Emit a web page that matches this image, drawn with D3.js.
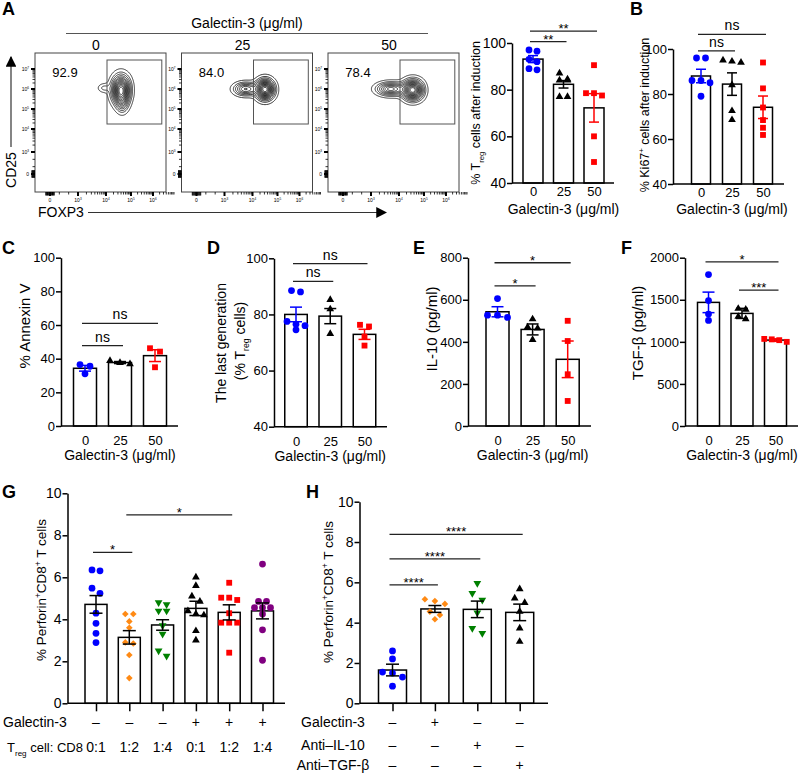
<!DOCTYPE html>
<html>
<head>
<meta charset="utf-8">
<script src="https://cdn.jsdelivr.net/npm/d3@7"></script>
<style>
  body { margin: 0; background: #fff; }
  svg text { font-family: "Liberation Sans", Arial, Helvetica, sans-serif; fill: #000; }
</style>
</head>
<body>
<svg id="fig" width="800" height="775"></svg>
<script>
// ---------------- data ----------------
const doseLabels = ["0", "25", "50"];

// A, flow plots (values in display decades: 0, 10^3 ... 10^7)
const flowGatePct = ["92.9", "84.0", "78.4"];
const flowXTicks = [0, 3, 4, 5, 6];
const flowYTicks = [0, 3, 4, 5, 6, 7];
const flowGate = [4.04, 6.4, 4.25, 7.45];          // x0, x1, y0, y1
// populations per plot: [centerX, centerY, sdX, sdY, weight]
const flowPops = [
  [[4.6, 5.95, 0.22, 0.42, 1], [4.65, 5.3, 0.15, 0.3, 0.25], [3.93, 6.05, 0.14, 0.14, 0.12]],
  [[4.5, 5.98, 0.22, 0.3, 1], [3.75, 6.0, 0.25, 0.2, 0.45]],
  [[4.55, 5.95, 0.25, 0.3, 1], [3.7, 6.0, 0.3, 0.2, 0.55]]
];
const flowLevels = [0.04, 0.1, 0.16, 0.23, 0.3, 0.37, 0.44, 0.51, 0.58, 0.65, 0.72, 0.79, 0.86, 0.93];

// A, bar: % Treg after induction
const tregPoints = [[97, 96.5, 93, 92, 88.5, 89], [87, 84.5, 84, 84, 77, 77], [90.5, 78.5, 78.5, 77.5, 60, 49]];
const tregMean = [93.1, 82.3, 72.2];
const tregSem = [1.5, 1.6, 6.1];
const tregSig = [{a: 0, b: 1, level: 100.6, label: "**"}, {a: 0, b: 2, level: 105.1, label: "**"}];

// B: % Ki67+
const kiPoints = [[96, 96, 86, 85, 86, 79], [94.5, 95, 94, 84, 72.5, 68.5], [94, 82.5, 74, 68.4, 65, 61.8]];
const kiMean = [88, 84.4, 74.1];
const kiSem = [3, 5, 5];
const kiSig = [{a: 0, b: 1, level: 99.2, label: "ns"}, {a: 0, b: 2, level: 106.5, label: "ns"}];

// C: % Annexin V
const annexPoints = [[36.5, 35.5, 31], [36.8, 38.8, 37.6], [46.2, 44.2, 34.9]];
const annexMean = [34.3, 37.7, 41.8];
const annexSem = [1.7, 0.6, 3.5];
const annexSig = [{a: 0, b: 1, level: 47.7, label: "ns"}, {a: 0, b: 2, level: 61, label: "ns"}];

// D: last generation (% Treg)
const lastGenPoints = [[88, 88.5, 77.5, 76.5, 76, 74.5], [85.2, 81.9, 73.1], [75.7, 76.3, 72.1, 68.9]];
const lastGenMean = [80, 79.4, 72.9];
const lastGenSem = [2.6, 2.7, 1.8];
const lastGenSig = [{a: 0, b: 1, level: 91.8, label: "ns"}, {a: 0, b: 2, level: 98.1, label: "ns"}];

// E: IL-10 (pg/ml)
const il10Points = [[606, 516, 527, 527], [508, 470, 465, 410], [500, 404, 246, 119]];
const il10Mean = [543, 459, 317];
const il10Sem = [24, 26, 87];
const il10Sig = [{a: 0, b: 1, level: 666, label: "*"}, {a: 0, b: 2, level: 776, label: "*"}];

// F: TGF-beta (pg/ml)
const tgfPoints = [[1800, 1490, 1330, 1255], [1385, 1395, 1300, 1272], [1035, 1030, 1020, 1000]];
const tgfMean = [1469, 1338, 1021];
const tgfSem = [122, 60, 15];
const tgfSig = [{a: 1, b: 2, level: 1615, label: "***"}, {a: 0, b: 2, level: 1951, label: "*"}];

// G: % Perforin+CD8+ T cells, Treg:CD8 co-culture
const gGroups = ["g1", "g2", "g3", "g4", "g5", "g6"];
const gGalectin = ["\u2013", "\u2013", "\u2013", "+", "+", "+"];
const gRatio = ["0:1", "1:2", "1:4", "0:1", "1:2", "1:4"];
const gPoints = [
  [6.31, 6.35, 5.48, 5.24, 4.29, 3.81, 3.33, 2.89],
  [4.25, 4.25, 3.9, 3.6, 2.9, 2.85, 2.3, 1.2],
  [4.7, 4.8, 4.4, 4.4, 3.7, 3.3, 2.5, 2.25],
  [6.0, 5.6, 5.1, 4.85, 4.4, 4.25, 4.2, 3.45, 3.0],
  [5.74, 5.03, 5.03, 4.92, 4.29, 3.84, 3.84, 3.84, 2.41],
  [6.63, 4.85, 4.85, 4.55, 4.55, 4.55, 4.25, 3.5, 2.05]
];
const gMean = [4.71, 3.14, 3.73, 4.52, 4.33, 4.40];
const gSem = [0.42, 0.32, 0.25, 0.34, 0.36, 0.38];
const gSig = [{a: 0, b: 1, level: 7.19, label: "*"}, {a: 1, b: 4, level: 8.97, label: "*"}];

// H: % Perforin+CD8+ T cells, blocking antibodies
const hGroups = ["h1", "h2", "h3", "h4"];
const hGalectin = ["\u2013", "+", "\u2013", "\u2013"];
const hAntiIL10 = ["\u2013", "\u2013", "+", "\u2013"];
const hAntiTGF = ["\u2013", "\u2013", "\u2013", "+"];
const hPoints = [
  [2.6, 2.2, 1.55, 1.5, 1.3, 0.85],
  [5.07, 5.16, 4.93, 4.55, 4.17, 4.38],
  [5.95, 5.46, 5.12, 4.49, 3.47, 3.72],
  [5.67, 5.21, 4.99, 4.55, 3.72, 3.06]
];
const hMean = [1.65, 4.68, 4.66, 4.51];
const hSem = [0.29, 0.17, 0.41, 0.41];
const hSig = [{a: 0, b: 1, level: 5.87, label: "****"}, {a: 0, b: 2, level: 7.16, label: "****"}, {a: 0, b: 3, level: 8.38, label: "****"}];

// ---------------- styles ----------------
const BLUE = "#0000ff", RED = "#ff0000", BLACK = "#000000", ORANGE = "#ff8a14", GREEN = "#008000", PURPLE = "#800080";
const symCircle = {type: d3.symbolCircle, size: 36};
const symTriUp = {type: d3.symbolTriangle, size: 26};
const symTriDown = {type: d3.symbolTriangle, size: 26, rotate: 180};
const symSquare = {type: d3.symbolSquare, size: 34};
const symDiamond = {type: d3.symbolSquare, size: 22, rotate: 45};
const doseStyles = [
  {...symCircle, color: BLUE}, {...symTriUp, color: BLACK}, {...symSquare, color: RED}
];
const gStyles = [
  {...symCircle, color: BLUE}, {...symDiamond, color: ORANGE}, {...symTriDown, color: GREEN},
  {...symTriUp, color: BLACK}, {...symSquare, color: RED}, {...symCircle, color: PURPLE}
];
const hStyles = [
  {...symCircle, color: BLUE}, {...symDiamond, color: ORANGE}, {...symTriDown, color: GREEN}, {...symTriUp, color: BLACK}
];

const svg = d3.select("#fig");

// text with sub/superscripts
function richText(sel, parts, size) {
  let off = 0;
  parts.forEach(([t, kind]) => {
    const target = kind === "sub" ? size * 0.3 : kind === "sup" ? -size * 0.38 : 0;
    sel.append("tspan").attr("dy", target - off).attr("font-size", kind ? size * 0.62 : size).text(t);
    off = target;
  });
}

function rotLabel(x, y, parts, size) {
  const t = svg.append("text")
    .attr("transform", `translate(${x},${y}) rotate(-90)`)
    .attr("text-anchor", "middle")
    .attr("font-size", size);
  richText(t, parts, size);
}

function plainText(x, y, str, size, anchor, weight) {
  return svg.append("text").attr("x", x).attr("y", y)
    .attr("font-size", size).attr("text-anchor", anchor || "middle")
    .attr("font-weight", weight || "normal").text(str);
}

// Prism-like scatter: points at almost the same height sit side by side
function swarm(vals, y, step) {
  const sorted = vals.map(v => ({v, py: y(v)})).sort((a, b) => a.py - b.py);
  const rows = [];
  sorted.forEach(p => {
    const last = rows[rows.length - 1];
    if (last && Math.abs(p.py - last[0].py) < step * 0.75) last.push(p);
    else rows.push([p]);
  });
  const out = [];
  rows.forEach(r => r.forEach((p, k) => out.push({v: p.v, dx: (k - (r.length - 1) / 2) * step})));
  return out;
}

function barPanel(cfg) {
  const g = svg.append("g");
  const y = d3.scaleLinear().domain([cfg.ticks[0], cfg.ticks[cfg.ticks.length - 1]]).range([cfg.yBottom, cfg.yTop]);
  const x = d3.scalePoint().domain(cfg.cats).range([cfg.xFirst, cfg.xLast]);
  const base = y.domain()[0];

  // bars
  g.selectAll(".bar").data(cfg.means).join("rect")
    .attr("class", "bar")
    .attr("x", (d, i) => x(cfg.cats[i]) - cfg.barW / 2)
    .attr("y", d => y(d))
    .attr("width", cfg.barW)
    .attr("height", d => y(base) - y(d))
    .attr("fill", "#fff").attr("stroke", "#000").attr("stroke-width", 1.5);

  // points
  cfg.points.forEach((vals, i) => {
    const st = cfg.styles[i];
    g.selectAll(null).data(swarm(vals, y, cfg.step)).join("path")
      .attr("transform", d => `translate(${x(cfg.cats[i]) + d.dx},${y(d.v)})` + (st.rotate ? ` rotate(${st.rotate})` : ""))
      .attr("d", d3.symbol(st.type, st.size)())
      .attr("fill", st.color);
  });

  // error bars (mean +/- SEM)
  cfg.means.forEach((m, i) => {
    const cx = x(cfg.cats[i]);
    const col = cfg.errColors ? cfg.errColors[i] : "#000";
    const lo = y(m - cfg.sem[i]), hi = y(m + cfg.sem[i]);
    const eg = g.append("g").attr("stroke", col).attr("stroke-width", 1.5);
    eg.append("line").attr("x1", cx).attr("x2", cx).attr("y1", lo).attr("y2", hi);
    eg.append("line").attr("x1", cx - cfg.cap).attr("x2", cx + cfg.cap).attr("y1", lo).attr("y2", lo);
    eg.append("line").attr("x1", cx - cfg.cap).attr("x2", cx + cfg.cap).attr("y1", hi).attr("y2", hi);
  });

  // y axis
  const yg = g.append("g").attr("transform", `translate(${cfg.axisX},0)`)
    .call(d3.axisLeft(y).tickValues(cfg.ticks).tickSize(5).tickSizeOuter(0).tickPadding(1).tickFormat(d3.format("d")));
  yg.attr("font-family", null).attr("font-size", cfg.tickFont);
  yg.selectAll("path, line").attr("stroke-width", 1.5);
  yg.selectAll("text").attr("fill", "#000");

  // x axis
  g.append("line").attr("x1", cfg.axisX).attr("x2", cfg.axisEnd)
    .attr("y1", y(base)).attr("y2", y(base)).attr("stroke", "#000").attr("stroke-width", 1.5);
  const xg = g.append("g").attr("transform", `translate(0,${y(base)})`)
    .call(d3.axisBottom(x).tickSize(cfg.xTickLen).tickPadding(cfg.xTickPad)
      .tickFormat(cfg.xLabels ? (d, i) => cfg.xLabels[i] : ""));
  xg.select(".domain").remove();
  xg.attr("font-family", null).attr("font-size", cfg.xTickFont || cfg.tickFont);
  xg.selectAll("line").attr("stroke-width", 1.5);
  xg.selectAll("text").attr("fill", "#000");

  if (cfg.xTitle) {
    plainText((cfg.xFirst + cfg.xLast) / 2, y(base) + cfg.titleDy, cfg.xTitle, 14);
  }

  // significance brackets
  cfg.sig.forEach(s => {
    const x1 = x(cfg.cats[s.a]) - 3, x2 = x(cfg.cats[s.b]) + 3, yy = y(s.level);
    g.append("line").attr("x1", x1).attr("x2", x2).attr("y1", yy).attr("y2", yy)
      .attr("stroke", "#222").attr("stroke-width", 1.3);
    const ns = s.label === "ns";
    plainText((x1 + x2) / 2, yy + (ns ? -4 : 2), s.label, ns ? 14 : 13);
  });
  return {x, y};
}

// ---------------- panel A: flow plots ----------------
const flowLayout = {
  lefts: [35, 181.5, 328], top: 53, w: 131, h: 139,
  xRange: [15, 43, 71, 96, 118], yRange: [121, 99, 76, 56, 36, 16],
  pctX: 30, pctY: 24, colLabelX: 61
};

function flowPlot(k) {
  const L = flowLayout;
  const g = svg.append("g").attr("transform", `translate(${L.lefts[k]},${L.top})`);
  const fx = d3.scaleLinear().domain(flowXTicks).range(L.xRange);
  const fy = d3.scaleLinear().domain(flowYTicks).range(L.yRange);

  // density surface for the contour lines
  const vals = new Float64Array(L.w * L.h);
  for (let j = 0; j < L.h; j++) {
    for (let i = 0; i < L.w; i++) {
      const tx = fx.invert(i + 0.5), ty = fy.invert(j + 0.5);
      let s = 0;
      flowPops[k].forEach(([cx, cy, sx, sy, wt]) => {
        s += wt * Math.exp(-0.5 * (((tx - cx) / sx) ** 2 + ((ty - cy) / sy) ** 2));
      });
      vals[j * L.w + i] = s;
    }
  }
  const mx = d3.max(vals);
  const contours = d3.contours().size([L.w, L.h]).thresholds(flowLevels.map(f => f * mx))(vals);
  g.selectAll(".ct").data(contours).join("path")
    .attr("class", "ct")
    .attr("d", d3.geoPath())
    .attr("fill", "none").attr("stroke", "#000").attr("stroke-width", 0.75);

  // frame and gate
  g.append("rect").attr("width", L.w).attr("height", L.h)
    .attr("fill", "none").attr("stroke", "#444").attr("stroke-width", 1);
  g.append("rect")
    .attr("x", fx(flowGate[0])).attr("y", fy(flowGate[3]))
    .attr("width", fx(flowGate[1]) - fx(flowGate[0]))
    .attr("height", fy(flowGate[2]) - fy(flowGate[3]))
    .attr("fill", "none").attr("stroke", "#555").attr("stroke-width", 1);

  // rug-like tick marks
  const minor = [];
  for (let d = 3; d <= 6; d++) for (let m = 2; m <= 9; m++) minor.push(d + Math.log10(m));
  const nearZero = d3.range(-0.45, 0.46, 0.09);
  const tickG = g.append("g").attr("stroke", "#000");
  [...minor, 1, 2].forEach(t => {
    tickG.append("line").attr("x1", fx(t)).attr("x2", fx(t)).attr("y1", L.h).attr("y2", L.h + 2.5).attr("stroke-width", 0.8);
    tickG.append("line").attr("y1", fy(t)).attr("y2", fy(t)).attr("x1", 0).attr("x2", -2.5).attr("stroke-width", 0.8);
  });
  nearZero.forEach(t => {
    tickG.append("line").attr("x1", fx(t)).attr("x2", fx(t)).attr("y1", L.h).attr("y2", L.h + 3.5).attr("stroke-width", 1);
    tickG.append("line").attr("y1", fy(t)).attr("y2", fy(t)).attr("x1", 0).attr("x2", -3.5).attr("stroke-width", 1);
  });
  flowXTicks.forEach(t => tickG.append("line").attr("x1", fx(t)).attr("x2", fx(t)).attr("y1", L.h).attr("y2", L.h + 4).attr("stroke-width", 2));
  flowYTicks.forEach(t => tickG.append("line").attr("y1", fy(t)).attr("y2", fy(t)).attr("x1", 0).attr("x2", -4).attr("stroke-width", 2));

  const tickLabel = (sel, t) => {
    if (t === 0) sel.text("0");
    else richText(sel, [["10", null], [String(t), "sup"]], 5);
  };
  flowXTicks.forEach(t => {
    const s = g.append("text").attr("x", fx(t)).attr("y", L.h + 10).attr("font-size", 5)
      .attr("text-anchor", "middle").attr("fill", "#333");
    tickLabel(s, t);
  });
  flowYTicks.forEach(t => {
    const s = g.append("text").attr("x", -6).attr("y", fy(t) + 2).attr("font-size", 5)
      .attr("text-anchor", "end").attr("fill", "#333");
    tickLabel(s, t);
  });

  // gate percentage and dose header
  g.append("text").attr("x", L.pctX).attr("y", L.pctY).attr("text-anchor", "middle")
    .attr("font-size", 13).text(flowGatePct[k]);
  g.append("text").attr("x", L.colLabelX).attr("y", -3).attr("text-anchor", "middle")
    .attr("font-size", 14).text(doseLabels[k]);
}

[0, 1, 2].forEach(flowPlot);

plainText(247, 28, "Galectin-3 (\u03bcg/ml)", 14);
svg.append("line").attr("x1", 66).attr("x2", 428).attr("y1", 33.5).attr("y2", 33.5)
  .attr("stroke", "#555").attr("stroke-width", 1.2);

// FOXP3 / CD25 arrows
svg.append("defs").append("marker")
  .attr("id", "arrow").attr("viewBox", "0 0 10 10").attr("refX", 9).attr("refY", 5)
  .attr("markerWidth", 9).attr("markerHeight", 9).attr("orient", "auto")
  .append("path").attr("d", "M0,0 L10,5 L0,10 Z").attr("fill", "#000");
plainText(38, 217, "FOXP3", 14, "start");
svg.append("line").attr("x1", 88).attr("x2", 386).attr("y1", 212.5).attr("y2", 212.5)
  .attr("stroke", "#333").attr("stroke-width", 1.2).attr("marker-end", "url(#arrow)");
rotLabel(16, 170, [["CD25", null]], 14);
svg.append("line").attr("x1", 11).attr("x2", 11).attr("y1", 147).attr("y2", 57)
  .attr("stroke", "#333").attr("stroke-width", 1.2).attr("marker-end", "url(#arrow)");

// ---------------- bar panels ----------------
const doseErrColors = [BLUE, BLACK, RED];
const galTitle = "Galectin-3 (\u03bcg/ml)";

barPanel({
  cats: doseLabels, xLabels: doseLabels, points: tregPoints, means: tregMean, sem: tregSem, sig: tregSig,
  styles: doseStyles, errColors: doseErrColors, ticks: [40, 60, 80, 100],
  axisX: 512, axisEnd: 614, yBottom: 183, yTop: 43, xFirst: 533, xLast: 594, barW: 20,
  step: 8, cap: 5, tickFont: 14, xTickFont: 13, xTickLen: 0, xTickPad: 4, xTitle: galTitle, titleDy: 31
});
rotLabel(480, 113, [["% T", null], ["reg", "sub"], [" cells after induction", null]], 12.5);

barPanel({
  cats: doseLabels, xLabels: doseLabels, points: kiPoints, means: kiMean, sem: kiSem, sig: kiSig,
  styles: doseStyles, errColors: doseErrColors, ticks: [40, 60, 80, 100],
  axisX: 673, axisEnd: 784, yBottom: 184, yTop: 49, xFirst: 701, xLast: 763, barW: 19,
  step: 9, cap: 5, tickFont: 13, xTickLen: 0, xTickPad: 4, xTitle: galTitle, titleDy: 30
});
rotLabel(649, 115, [["% Ki67", null], ["+", "sup"], [" cells after induction", null]], 12.5);

barPanel({
  cats: doseLabels, xLabels: doseLabels, points: annexPoints, means: annexMean, sem: annexSem, sig: annexSig,
  styles: doseStyles, errColors: doseErrColors, ticks: [0, 20, 40, 60, 80, 100],
  axisX: 61, axisEnd: 178, yBottom: 426, yTop: 257.7, xFirst: 85, xLast: 155, barW: 23,
  step: 10, cap: 6, tickFont: 13, xTickLen: 0, xTickPad: 10, xTitle: galTitle, titleDy: 34
});
rotLabel(30, 326, [["% Annexin V", null]], 15);

barPanel({
  cats: doseLabels, xLabels: doseLabels, points: lastGenPoints, means: lastGenMean, sem: lastGenSem, sig: lastGenSig,
  styles: doseStyles, errColors: doseErrColors, ticks: [40, 60, 80, 100],
  axisX: 274, axisEnd: 387, yBottom: 426.7, yTop: 258.3, xFirst: 296, xLast: 364.5, barW: 22.5,
  step: 9, cap: 6, tickFont: 13, xTickLen: 0, xTickPad: 10, xTitle: galTitle, titleDy: 34
});
rotLabel(226, 343, [["The last generation", null]], 14);
rotLabel(245, 341, [["(% T", null], ["reg", "sub"], [" cells)", null]], 14);

barPanel({
  cats: doseLabels, xLabels: doseLabels, points: il10Points, means: il10Mean, sem: il10Sem, sig: il10Sig,
  styles: doseStyles, errColors: doseErrColors, ticks: [0, 200, 400, 600, 800],
  axisX: 468, axisEnd: 591, yBottom: 426, yTop: 257.7, xFirst: 497.5, xLast: 567.7, barW: 23,
  step: 10, cap: 6, tickFont: 13, xTickLen: 0, xTickPad: 10, xTitle: galTitle, titleDy: 34
});
rotLabel(437, 329, [["IL-10 (pg/ml)", null]], 15);

barPanel({
  cats: doseLabels, xLabels: doseLabels, points: tgfPoints, means: tgfMean, sem: tgfSem, sig: tgfSig,
  styles: doseStyles, errColors: doseErrColors, ticks: [0, 500, 1000, 1500, 2000],
  axisX: 685, axisEnd: 798, yBottom: 426, yTop: 257.7, xFirst: 708.5, xLast: 775.5, barW: 22,
  step: 7.5, cap: 6, tickFont: 13, xTickLen: 0, xTickPad: 10, xTitle: galTitle, titleDy: 34
});
rotLabel(643, 333, [["TGF-\u03b2 (pg/ml)", null]], 15);

// G
const gScales = barPanel({
  cats: gGroups, points: gPoints, means: gMean, sem: gSem, sig: gSig,
  styles: gStyles, ticks: [0, 2, 4, 6, 8, 10],
  axisX: 67.5, axisEnd: 285, yBottom: 703.3, yTop: 493.3, xFirst: 96, xLast: 262.5, barW: 22,
  step: 8, cap: 6.5, tickFont: 14, xTickLen: 8, xTickPad: 0
});
rotLabel(46, 590, [["% Perforin", null], ["+", "sup"], ["CD8", null], ["+", "sup"], [" T cells", null]], 13.5);
plainText(3, 727, "Galectin-3", 14, "start");
gGalectin.forEach((s, i) => plainText(gScales.x(gGroups[i]), 727, s, 14));
const tregRow = svg.append("text").attr("x", 7).attr("y", 752).attr("font-size", 13);
richText(tregRow, [["T", null], ["reg", "sub"], [" cell: CD8", null]], 13);
gRatio.forEach((s, i) => plainText(gScales.x(gGroups[i]), 752, s, 14));

// H
const hScales = barPanel({
  cats: hGroups, points: hPoints, means: hMean, sem: hSem, sig: hSig,
  styles: hStyles, ticks: [0, 2, 4, 6, 8, 10],
  axisX: 359.5, axisEnd: 548, yBottom: 703.3, yTop: 501.7, xFirst: 392.5, xLast: 519.7, barW: 28,
  step: 10, cap: 6.5, tickFont: 14, xTickLen: 8, xTickPad: 0
});
rotLabel(333, 592, [["% Perforin", null], ["+", "sup"], ["CD8", null], ["+", "sup"], [" T cells", null]], 13.5);
[["Galectin-3", hGalectin, 727], ["Anti\u2013IL-10", hAntiIL10, 749.5], ["Anti\u2013TGF-\u03b2", hAntiTGF, 770]].forEach(([lab, row, yy]) => {
  plainText(333, yy, lab, 14);
  row.forEach((s, i) => plainText(hScales.x(hGroups[i]), yy, s, 14));
});

// panel letters
[["A", 2, 15], ["B", 630, 15], ["C", 2, 254], ["D", 207, 254], ["E", 413, 254], ["F", 621, 254], ["G", 2, 498], ["H", 306, 498]]
  .forEach(([l, x, y]) => plainText(x, y, l, 18, "start", "bold"));
</script>
</body>
</html>
